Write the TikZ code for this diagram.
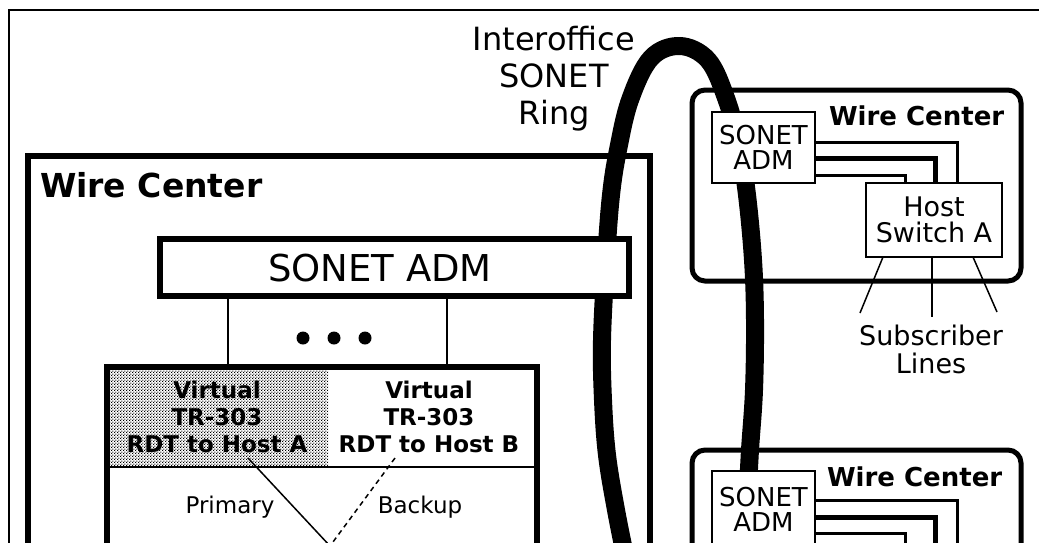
\documentclass[tikz,border=0pt]{standalone}
\usepackage{fontspec}
\setmainfont{DejaVu Sans}
\usepackage{graphicx}
\usetikzlibrary{patterns}
\newcommand{\fsz}[2]{\fontsize{#1}{#2}\selectfont}
\pgfdeclarepatternformonly{rdtdots}{\pgfpointorigin}{\pgfpoint{3.2pt}{3.2pt}}{\pgfpoint{3.2pt}{3.2pt}}{%
  \pgfpathrectangle{\pgfpointorigin}{\pgfpoint{1.3pt}{1.3pt}}%
  \pgfpathrectangle{\pgfpoint{1.6pt}{1.6pt}}{\pgfpoint{1.3pt}{1.3pt}}%
  \pgfusepath{fill}}
\begin{document}
\begin{tikzpicture}[x=1pt,y=-1pt,
  heavybox/.style={draw, line width=6pt, inner sep=0pt, outer sep=0pt},
  lightbox/.style={draw, line width=2pt, fill=white, inner sep=0pt, outer sep=0pt, align=center},
  wcbox/.style={draw, line width=5pt, rounded corners=13pt, inner sep=0pt, outer sep=0pt},
  lbl/.style={inner sep=0pt, outer sep=0pt, align=center},
  ringline/.style={line width=18pt},
  wire/.style={line width=3pt},
  widewire/.style={line width=5pt},
  fineline/.style={line width=1.5pt},
  frameline/.style={line width=2pt}]

\path[use as bounding box] (0,0) rectangle (1039,542);
\clip (0,0) rectangle (1039,542);

% outer frame
\draw[frameline] (9,560) -- (9,10) -- (1050,10);

% wire center boxes
\node[heavybox, minimum width=622pt, minimum height=494pt] (wcL) at (339,403) {};
\node[wcbox, minimum width=329pt, minimum height=191pt] (wcU) at (856.5,185.5) {};
\node[wcbox, minimum width=329pt, minimum height=250pt] (wcD) at (856.5,575) {};

% RDT box
\fill[pattern=rdtdots] (110,370) rectangle (328,466);
\node[heavybox, minimum width=430pt, minimum height=283pt] (rdt) at (322,508.5) {};
\draw[fineline] (rdt.west |- 0,467) -- (rdt.east |- 0,467);

% ring
\draw[ringline] plot[smooth, tension=0.6] coordinates {(626,560) (616,510) (607,455) (603,400) (602,340) (606,260) (611,195) (618,150) (630,100) (651,58) (680,46) (708,60) (726,98) (739,145) (747,195) (753,260) (755,320) (754,390) (750,450) (748,490)};

% equipment boxes
\node[heavybox, fill=white, minimum width=469.5pt, minimum height=57.5pt] (bigadm) at (394.25,267.25) {};
\node[lbl, anchor=base, font=\fsz{37}{42}] (bigadmtxt) at (380,281) {SONET ADM};

\node[lightbox, minimum width=103pt, minimum height=71pt, font=\fsz{26}{25}] (adm1) at (763.5,147.5) {SONET\\ADM};
\node[lightbox, minimum width=136pt, minimum height=74pt, font=\fsz{27}{26}] (host1) at (934,220) {Host\\Switch A};
\node[lightbox, minimum width=103pt, minimum height=129pt] (adm2) at (763.5,535.5) {};
\node[lbl, font=\fsz{26}{25}] (adm2txt) at (763.5,509) {SONET\\ADM};

% labels
\node[lbl, anchor=north, font=\fsz{32}{37}] (ringlbl) at (554,26) {Interoffice\\SONET\\Ring};
\node[lbl, anchor=base west, font=\bfseries\fsz{33}{38}] (wcLlbl) at (40,197) {Wire Center};
\node[lbl, anchor=base west, font=\bfseries\fsz{26}{30}] (wcUlbl) at (829,125) {Wire Center};
\node[lbl, anchor=base west, font=\bfseries\fsz{26}{30}] (wcDlbl) at (827,486) {Wire Center};
\node[lbl, font=\fsz{27}{28}] (sub) at (931,349) {Subscriber\\Lines};
\node[lbl, anchor=south, text depth=6pt, font=\bfseries\fsz{23}{27}] (rdtA) at (217,458) {Virtual\\TR-303\\RDT to Host A};
\node[lbl, anchor=south, text depth=6pt, font=\bfseries\fsz{23}{27}] (rdtB) at (429,458) {Virtual\\TR-303\\RDT to Host B};
\node[lbl, font=\fsz{23}{27}] (prim) at (230,507) {Primary};
\node[lbl, font=\fsz{23}{27}] (back) at (420,507) {Backup};

% ADM to RDT links
\draw[fineline] (bigadm.south -| 228,0) -- (rdt.north -| 228,0);
\draw[fineline] (bigadm.south -| 447,0) -- (rdt.north -| 447,0);
\fill (303,338) circle[radius=6.5pt];
\fill (334,338) circle[radius=6.5pt];
\fill (365,338) circle[radius=6.5pt];

% primary / backup
\coordinate (join) at (330,546);
\draw[fineline] (rdtA.south -| 248,0) -- (join);
\draw[fineline, dash pattern=on 5pt off 4pt] (rdtB.south -| 395,0) -- (join);

% ADM to host switch wiring (upper)
\draw[wire] (adm1.east |- 0,142) -| (host1.north -| 957,0);
\draw[widewire] (adm1.east |- 0,158) -| (host1.north -| 935,0);
\draw[wire] (adm1.east |- 0,175) -| (host1.north -| 905,0);

% lower wiring
\coordinate (lw1) at (957,560);
\coordinate (lw2) at (935,560);
\coordinate (lw3) at (905,560);
\draw[wire] (adm2.east |- 0,500) -| (lw1);
\draw[widewire] (adm2.east |- 0,517) -| (lw2);
\draw[wire] (adm2.east |- 0,533) -| (lw3);

% subscriber lines
\coordinate (s1) at (860,313);
\coordinate (s2) at (932,317);
\coordinate (s3) at (997,312);
\draw[fineline] (host1.south -| 883,0) -- (s1);
\draw[fineline] (host1.south -| 932,0) -- (s2);
\draw[fineline] (host1.south -| 973,0) -- (s3);
\end{tikzpicture}
\end{document}
